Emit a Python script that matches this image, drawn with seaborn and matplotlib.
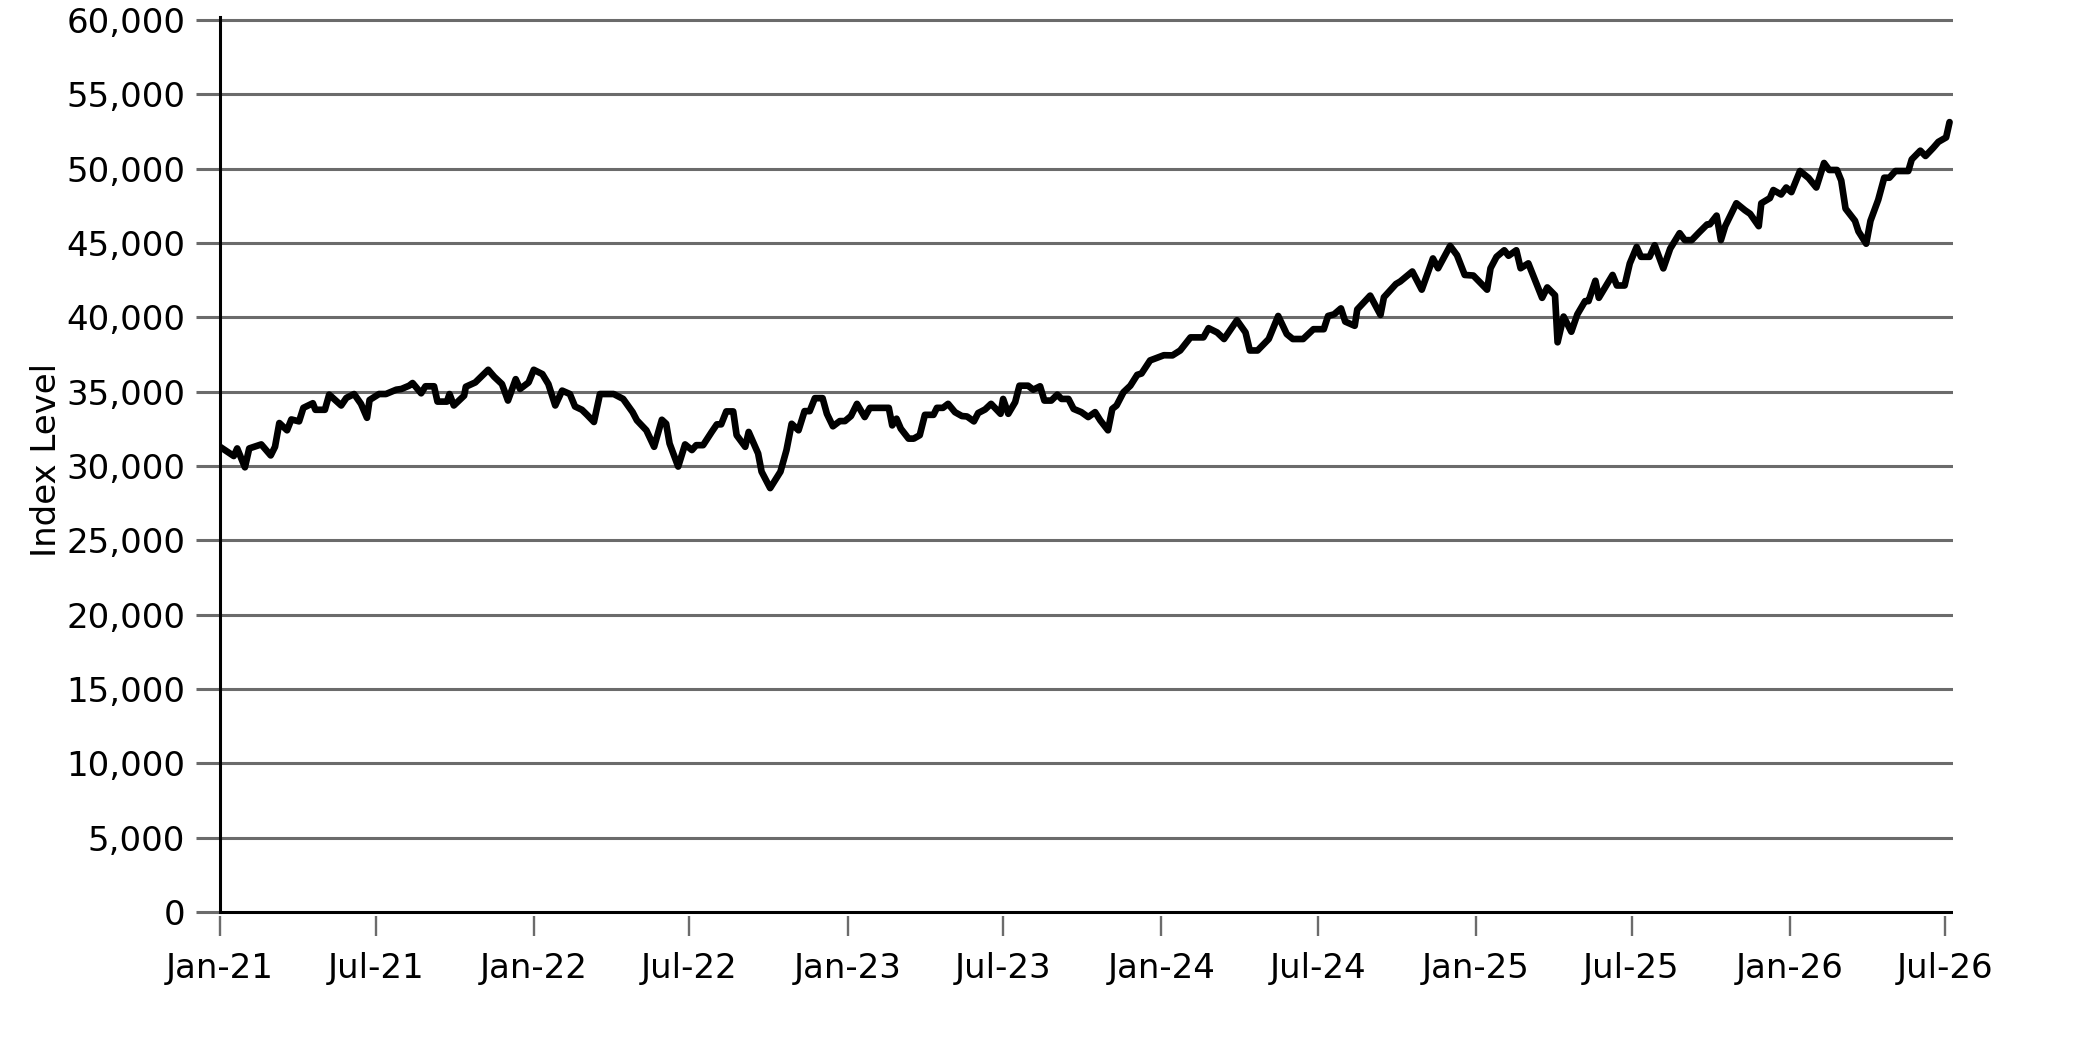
import numpy as np
import pandas as pd
import matplotlib
matplotlib.use("Agg")
import matplotlib.pyplot as plt
import matplotlib.dates as mdates
from matplotlib.ticker import FuncFormatter
import seaborn as sns

# ---- data ----
start_date = "2021-01-01"
weeks = [
    0.0, 2.3, 2.9, 4.1, 4.9, 6.8, 8.4, 9.1, 9.8, 11.1, 11.9, 13.2, 13.9, 15.4, 15.9, 17.4, 18.1,
    20.1, 21.0, 22.3, 23.4, 24.4, 24.8, 26.4, 27.6, 29.3, 30.2, 31.4, 32.0, 33.5, 34.1, 35.6,
    36.2, 37.7, 38.2, 38.9, 40.6, 40.9, 42.4, 43.3, 44.5, 45.6, 46.8, 47.8, 49.2, 49.8, 51.3,
    52.2, 53.6, 54.5, 55.7, 56.9, 58.1, 59.0, 60.2, 61.0, 62.2, 63.2, 65.5, 67.0, 68.5, 69.3,
    70.9, 72.1, 73.5, 74.1, 74.7, 76.2,
    77.3, 78.4, 79.2, 80.3, 81.7, 82.5, 83.3, 84.2, 85.3, 85.8, 87.3, 87.9, 89.4, 90.0, 91.4,
    93.1, 94.2, 95.0, 96.1, 97.1, 98.0, 98.8, 100.2, 100.8, 101.8, 103.0, 103.8, 104.9, 105.9,
    107.2, 108.0, 111.1, 111.7, 112.4, 113.2, 114.4, 115.3, 116.3, 117.1, 118.5, 119.1, 120.2,
    121.0, 122.2, 123.3, 124.1, 125.3, 126.0, 127.1, 128.2, 129.7, 130.2, 131.0, 132.1, 132.9,
    134.3, 135.1, 136.3, 137.0, 138.2, 139.2, 139.9, 141.0, 141.8, 143.1, 144.3, 145.4, 146.3,
    147.6, 148.3, 149.0, 150.1, 151.3, 152.4, 153.2, 154.5,
    156.8, 158.3, 159.6, 161.3, 163.4, 164.3, 165.7, 166.9, 169.0, 170.4, 171.1, 172.4, 174.3,
    175.9, 177.3, 178.3, 180.0, 181.7, 183.4, 184.2, 185.1, 186.3, 187.0, 188.6, 189.0, 191.2,
    192.8, 193.4, 195.4, 196.2, 198.2, 199.7, 201.6, 202.4, 204.4, 205.6, 206.9, 208.3, 210.6,
    211.1, 212.2, 213.4, 214.1, 215.5, 216.1, 217.5, 219.7, 220.5, 221.9, 222.3, 223.3, 224.6,
    225.6, 226.9, 227.5, 228.6,
    229.1, 231.5, 232.1, 233.5, 234.3, 235.4, 236.2, 237.6, 238.4, 239.8, 241.0, 242.5, 243.4,
    244.5, 245.9, 247.1, 247.6, 248.7, 249.4, 250.1, 252.0, 253.5, 254.3, 255.7, 256.2, 257.6,
    258.1, 259.5, 260.3, 261.1, 262.6, 264.0, 265.3, 266.5, 267.5, 268.7, 269.5, 270.2, 271.7,
    272.3, 273.6, 274.3, 275.6, 276.5, 277.5, 278.4, 280.5, 281.1, 282.6, 283.4, 284.7, 285.6,
    286.9, 287.5,
]
index_level = [
    31290, 30670, 31180, 29910, 31180, 31450, 30710, 31290, 32890, 32400, 33130, 33000, 33910,
    34220, 33780, 33780, 34800, 34070, 34580, 34840, 34180, 33240, 34440, 34840, 34840, 35130,
    35180, 35400, 35580, 34890, 35360, 35360, 34330, 34330, 34840, 34070, 34730, 35330, 35620,
    35960, 36470, 36000, 35510, 34400, 35840, 35180, 35620, 36470, 36180, 35510, 34070, 35070,
    34840, 34000, 33780, 33440, 32960, 34840, 34840, 34510, 33620, 33070, 32400, 31290, 33110,
    32840, 31510, 29960,
    31450, 31070, 31400, 31400, 32290, 32800, 32800, 33670, 33670, 32070, 31290, 32290, 30840,
    29620, 28510, 29620, 31070, 32840, 32400, 33690, 33690, 34560, 34560, 33510, 32670, 33020,
    33020, 33360, 34180, 33290, 33910, 33910, 32730, 33180, 32510, 31840, 31840, 32070, 33440,
    33440, 33910, 33910, 34180, 33620, 33360, 33330, 33000, 33560, 33800, 34180, 33510, 34510,
    33510, 34290, 35400, 35400, 35130, 35360, 34400, 34400, 34800, 34510, 34510, 33840, 33620,
    33290, 33620, 33070, 32400, 33840, 34070, 34960, 35400, 36130, 36220, 37100,
    37450, 37440, 37770, 38650, 38650, 39270, 38980, 38540, 39800, 38980, 37770, 37770, 38540,
    40090, 38870, 38540, 38540, 39200, 39200, 40090, 40200, 40600, 39710, 39430, 40530, 41460,
    40160, 41350, 42240, 42410, 43080, 41860, 43960, 43300, 44800, 44180, 42850, 42810, 41860,
    43300, 44070, 44510, 44140, 44510, 43300, 43630, 41310, 42010, 41480, 38320, 40050, 39030,
    40200, 41090, 41090, 42460,
    41310, 42850, 42140, 42140, 43620, 44730, 44070, 44070, 44850, 43290, 44620, 45660, 45190,
    45190, 45730, 46250, 46250, 46840, 45190, 46130, 47670, 47200, 46960, 46130, 47670, 48020,
    48560, 48260, 48730, 48420, 49840, 49370, 48730, 50380, 49910, 49910, 49200, 47310, 46490,
    45780, 44950, 46490, 47900, 49390, 49390, 49840, 49840, 50620, 51210, 50850, 51400, 51800,
    52100, 53130,
]
tick_dates = ["2021-01-01", "2021-07-01", "2022-01-01", "2022-07-01", "2023-01-01", "2023-07-01",
              "2024-01-01", "2024-07-01", "2025-01-01", "2025-07-01", "2026-01-01", "2026-07-01"]
y_ticks = [0, 5000, 10000, 15000, 20000, 25000, 30000, 35000, 40000, 45000, 50000, 55000, 60000]
y_label = "Index Level"

# ---- build frame ----
dates = pd.Timestamp(start_date) + pd.to_timedelta(np.round(np.array(weeks) * 7), unit="D")
df = pd.DataFrame({"date": dates, "value": index_level})

sns.set_theme(style="white")
plt.rcParams["font.family"] = ["DejaVu Sans"]

W, H = 2083, 1042
fig = plt.figure(figsize=(W / 100, H / 100), dpi=100)
ax_top, ax_bot = 16.7, 916.0
ax = fig.add_axes([220 / W, 1 - ax_bot / H, (1953 - 220) / W, (ax_bot - ax_top) / H])

grid_col = "#6b6b6b"
for yv in y_ticks[1:]:
    ax.axhline(yv, color=grid_col, lw=2.2, zorder=1)

sns.lineplot(data=df, x="date", y="value", ax=ax, color="black", lw=4.8, zorder=3)
for ln in ax.get_lines():
    ln.set_solid_joinstyle("round")
    ln.set_solid_capstyle("round")

ax.axhline(0, color="black", lw=2.2, zorder=4)

ax.set_ylim(-270, 60220)
ax.set_xlim(pd.Timestamp("2021-01-01"), pd.Timestamp("2026-07-10"))

ax.set_yticks(y_ticks)
ax.yaxis.set_major_formatter(FuncFormatter(lambda v, p: f"{int(v):,}"))
ax.set_xticks(pd.to_datetime(tick_dates))
ax.xaxis.set_major_formatter(mdates.DateFormatter("%b-%y"))

ax.tick_params(axis="y", direction="out", length=17.3, width=2.2, color=grid_col,
               labelsize=24.5, pad=7.7, labelcolor="black", left=True)
ax.tick_params(axis="x", direction="out", length=14.4, width=1.7, color=grid_col,
               labelsize=24.5, pad=11.5, labelcolor="black", bottom=True)

for s in ["top", "right", "bottom"]:
    ax.spines[s].set_visible(False)
ax.spines["left"].set_color("black")
ax.spines["left"].set_linewidth(2.2)
ax.spines["left"].set_bounds(0, 60220)

ax.set_xlabel("")
ax.set_ylabel(y_label, fontsize=24.5, color="black")
ax.yaxis.set_label_coords(-0.0906, 0.507)
ax.grid(False)

fig.savefig("out.png", dpi=100, facecolor="white")
